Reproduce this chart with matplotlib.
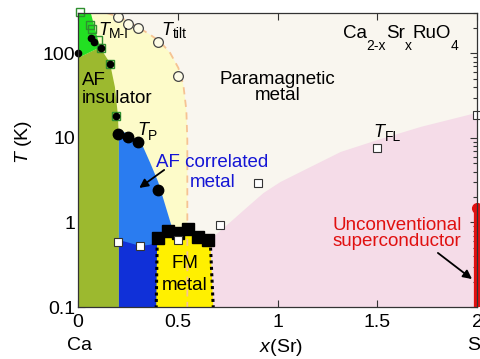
import numpy as np
import matplotlib
matplotlib.use('Agg')
import matplotlib.pyplot as plt

plt.rcParams['font.family'] = ['Liberation Sans', 'DejaVu Sans']
plt.rcParams['mathtext.fontset'] = 'custom'
plt.rcParams['mathtext.rm'] = 'Liberation Sans'
plt.rcParams['mathtext.it'] = 'Liberation Sans:italic'

# ---------------- data ----------------
tilt_x = [0.2, 0.25, 0.3, 0.4, 0.5]
tilt_T = [270, 225, 200, 137, 54]
tp_x = [0.2, 0.25, 0.3, 0.4]
tp_T = [11.1, 10.2, 8.9, 2.4]
tn_x = [0.0, 0.065, 0.08, 0.115, 0.16, 0.19]
tn_T = [100, 152, 137, 116, 75, 18]
tmi_x = [0.01, 0.06, 0.07, 0.10, 0.115, 0.16, 0.19]
tmi_T = [310, 217, 195, 145, 116, 75, 18]
fm_x = [0.40, 0.45, 0.50, 0.55, 0.60, 0.65]
fm_T = [0.656, 0.79, 0.75, 0.84, 0.67, 0.62]
tfl_x = [0.2, 0.31, 0.5, 0.71, 0.9, 1.5, 2.0]
tfl_T = [0.59, 0.53, 0.62, 0.93, 2.9, 7.6, 18.7]
sc_x = 2.0
sc_Tc = 1.5

# region boundaries
tilt_bx = [0.141, 0.206, 0.256, 0.307, 0.362, 0.412, 0.462, 0.503, 0.528, 0.543, 0.548, 0.548]
tilt_bT = [301, 270, 236, 200, 166, 137, 101, 67.3, 42.4, 21.4, 9.46, 0.1]
afi_bx = [0.0, 0.0, 0.11, 0.16, 0.185, 0.2, 0.205, 0.205]
afi_bT = [0.1, 88, 118, 77, 40, 18.7, 9.5, 0.1]
mi_bx = [0.0, 0.0, 0.05, 0.11, 0.0]
mi_bT = [88, 400, 400, 118, 88]
afm_bx = [0.205, 0.261, 0.322, 0.362, 0.402, 0.422, 0.452, 0.472]
afm_bT = [12.4, 10.9, 8.26, 5.06, 3.01, 2.11, 1.23, 0.86]
afm_low_x = [0.205, 0.261, 0.312, 0.362, 0.397]
afm_low_T = [0.62, 0.571, 0.527, 0.545, 0.59]
fl_bx = [0.678, 0.764, 0.849, 0.930, 1.015, 1.116, 1.317, 1.503, 1.719, 2.0]
fl_bT = [0.673, 1.01, 1.52, 2.23, 3.01, 3.96, 6.82, 9.46, 13.5, 19.8]
fm_left_x = [0.397, 0.392]
fm_right_x = [0.663, 0.678]
fm_edge_T = [0.6, 0.1]

# ---------------- figure ----------------
fig = plt.figure(figsize=(4.8, 3.59), dpi=100)
ax = fig.add_axes([78/480, 1-307/359, 399/480, 294/359])
ax.set_yscale('log')
ax.set_xlim(0, 2)
ax.set_ylim(0.1, 300)
ax.set_facecolor('#f9f6ef')

# regions
ax.fill(fl_bx + [2.0, 0.66, 0.66], fl_bT + [0.1, 0.1, 0.6], color='#f5dce8', lw=0, zorder=1)
ax.fill([0, 0, 0.12] + tilt_bx, [0.1, 400, 400] + tilt_bT, color='#fdfbc9', lw=0, zorder=1)
ax.fill(afi_bx, afi_bT, color='#9cb92f', lw=0, zorder=2)
ax.fill(mi_bx, mi_bT, color='#22e022', lw=0, zorder=2)
ax.fill(afm_bx + [0.472, 0.205], afm_bT + [0.5, 0.5], color='#2a7cf0', lw=0, zorder=2)
ax.fill([0.205] + afm_low_x + [0.397], [0.1] + afm_low_T + [0.1], color='#1030d8', lw=0, zorder=3)
ax.fill([fm_left_x[1], fm_left_x[0]] + fm_x + [fm_right_x[0], fm_right_x[1]],
        [0.1, 0.656] + fm_T + [0.62, 0.1], color='#fff000', lw=0, zorder=3)

ax.plot(tilt_bx, tilt_bT, color='#f6c393', lw=1.3, dashes=(4, 3), zorder=4)
ax.plot(fm_left_x, fm_edge_T, color='k', lw=2.2, ls=(0, (1, 1.1)), zorder=5)
ax.plot(fm_right_x, fm_edge_T, color='k', lw=2.2, ls=(0, (1, 1.1)), zorder=5)

# markers
ax.plot(fm_x, fm_T, 's', color='k', ms=8, zorder=6)
ax.plot(tilt_x, tilt_T, 'o', mfc='#fdfbe6', mec='#444444', ms=7, mew=0.9, ls='none', zorder=6)
ax.plot(tmi_x, tmi_T, 's', mfc='none', mec='#2f8f2f', ms=6, mew=1.0, ls='none', zorder=6, clip_on=False)
ax.plot(tn_x, tn_T, 'o', color='k', ms=4.5, ls='none', zorder=7, clip_on=False)
ax.plot(tp_x, tp_T, 'o', color='k', ms=7.5, ls='none', zorder=7)
ax.plot(tfl_x, tfl_T, 's', mfc='white', mec='#333333', ms=5.5, mew=0.8, ls='none', zorder=8, clip_on=False)
ax.plot([sc_x, sc_x], [0.1, sc_Tc], color='#e01010', lw=4.5, solid_capstyle='butt', zorder=8, clip_on=False)
ax.plot([sc_x], [sc_Tc], 'o', color='#e01010', ms=7, zorder=8, clip_on=False)

# ticks
ax.set_xticks([0, 0.5, 1, 1.5, 2])
ax.set_xticklabels(['0', '0.5', '1', '1.5', '2'])
ax.set_yticks([0.1, 1, 10, 100])
ax.set_yticklabels(['0.1', '1', '10', '100'])
ax.tick_params(which='both', direction='in', top=True, right=True, labelsize=14, width=0.8, color='#333333')
ax.tick_params(which='major', length=5)
ax.tick_params(which='minor', length=3)
ax.tick_params(axis='y', pad=2)
ax.tick_params(axis='x', pad=5)
for s in ax.spines.values():
    s.set_linewidth(0.9)
    s.set_color('#333333')
    s.set_zorder(10)

renderer = fig.canvas.get_renderer()


def chain(x, T, pieces, color='k'):
    off = 0.0
    for txt, fs, dy, it in pieces:
        t = ax.annotate(txt, (x, T), xytext=(off, dy), textcoords='offset pixels',
                        fontsize=fs, style='italic' if it else 'normal',
                        ha='left', va='baseline', color=color, zorder=9)
        off += t.get_window_extent(renderer).width


chain(0.10, 166, [('T', 13, 0, True), ('M-I', 10, -3, False)])
chain(0.42, 166, [('T', 13, 0, True), ('tilt', 10, -3, False)])
chain(0.296, 10.9, [('T', 13, 0, True), ('P', 10, -5, False)])
chain(1.482, 10.3, [('T', 13, 0, True), ('FL', 10, -4, False)])
chain(1.327, 152, [('Ca', 13.5, 0, False), ('2-x', 10, -12, False), ('Sr', 13.5, 0, False),
                   ('x', 10, -12, False), ('RuO', 13.5, 0, False), ('4', 10, -12, False)])

ax.text(0.02, 42.4, 'AF', fontsize=13.5, va='baseline', ha='left', zorder=9)
ax.text(0.02, 25.9, 'insulator', fontsize=13.5, va='baseline', ha='left', zorder=9)
ax.text(1.0, 43.5, 'Paramagnetic', fontsize=13.5, va='baseline', ha='center', zorder=9)
ax.text(1.0, 28.2, 'metal', fontsize=13.5, va='baseline', ha='center', zorder=9)
ax.text(0.673, 4.54, 'AF correlated', fontsize=13.5, va='baseline', ha='center', color='#1515d5', zorder=9)
ax.text(0.673, 2.63, 'metal', fontsize=13.5, va='baseline', ha='center', color='#1515d5', zorder=9)
ax.text(0.538, 0.29, 'FM', fontsize=13.5, va='baseline', ha='center', zorder=9)
ax.text(0.533, 0.159, 'metal', fontsize=13.5, va='baseline', ha='center', zorder=9)
ax.text(1.6, 0.815, 'Unconventional', fontsize=13.5, va='baseline', ha='center', color='#e01010', zorder=9)
ax.text(1.6, 0.527, 'superconductor', fontsize=13.5, va='baseline', ha='center', color='#e01010', zorder=9)

arrow = dict(arrowstyle='-|>', color='k', lw=1.3, mutation_scale=13, shrinkA=0, shrinkB=0)
ax.annotate('', xy=(0.307, 2.56), xytext=(0.432, 4.18), arrowprops=arrow, zorder=9)
ax.annotate('', xy=(1.975, 0.214), xytext=(1.804, 0.436), arrowprops=arrow, zorder=9)

fig.text(23/480, 1-142/359, r'$T$ (K)', rotation=90, ha='center', va='center', fontsize=14)
fig.text(281/480, 1-347/359, r'$x$(Sr)', ha='center', va='center', fontsize=14)
fig.text(80/480, 1-346/359, 'Ca', ha='center', va='center', fontsize=14)
fig.text(477/480, 1-346/359, 'Sr', ha='center', va='center', fontsize=14)

fig.savefig('out.png', dpi=100)
